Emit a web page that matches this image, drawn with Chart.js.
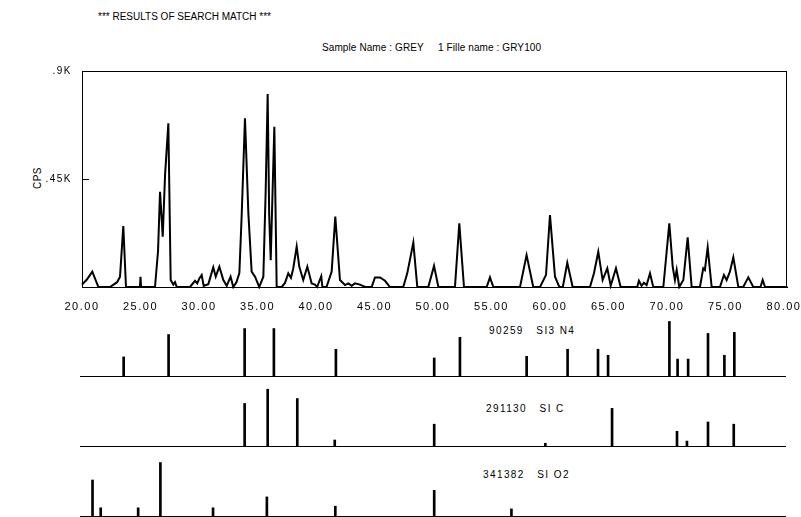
<!DOCTYPE html>
<html lang="en">
<head>
<meta charset="UTF-8">
<title>Search match</title>
<script src="https://cdn.jsdelivr.net/npm/chart.js"></script>
<style>
  body { margin: 0; background: #fff; }
  #page { position: relative; width: 801px; height: 517px; overflow: hidden; font-family: "Liberation Sans", Arial, sans-serif; color: #000; }
  canvas { position: absolute; left: 0; }
  .txt { position: absolute; font-size: 10px; white-space: pre; line-height: 12px; }
</style>
</head>
<body>
<div id="page">
  <div class="txt" style="left:98px;top:11px;letter-spacing:0px">*** RESULTS OF SEARCH MATCH ***</div>
  <div class="txt" style="left:322px;top:42px;letter-spacing:0.1px">Sample Name : GREY     1 Fille name : GRY100</div>
  <div class="txt" style="left:27px;top:172px;transform:rotate(-90deg);transform-origin:center;letter-spacing:0.5px">CPS</div>
  <div class="txt" style="left:489px;top:325px;letter-spacing:1.4px">90259   SI3 N4</div>
  <div class="txt" style="left:486px;top:403px;letter-spacing:1.4px">291130   SI C</div>
  <div class="txt" style="left:483px;top:469px;letter-spacing:1.4px">341382   SI O2</div>
  <canvas id="main" width="801" height="310" style="top:0"></canvas>
  <canvas id="p1" width="801" height="68" style="top:310px"></canvas>
  <canvas id="p2" width="801" height="68" style="top:380px"></canvas>
  <canvas id="p3" width="801" height="68" style="top:450px"></canvas>
</div>

<script>
    // measured pattern (2-theta, counts per second)
    var twoTheta = [20.0, 20.4, 20.88, 21.4, 22.4, 23.0, 23.25, 23.53, 23.76, 24.95, 25.0, 25.05,
        26.24, 26.5, 26.67, 26.9, 27.1, 27.38, 27.58, 27.8, 27.95, 28.1,
        29.23, 29.66, 29.85, 30.03, 30.23, 30.4, 30.8, 31.22, 31.43, 31.74, 32.08, 32.37, 32.7, 32.93,
        33.2, 33.45, 33.65, 33.93, 34.22, 34.5, 34.79, 35.15, 35.5, 35.7, 35.87, 36.0, 36.13, 36.44, 36.64,
        37.07, 37.35, 37.63, 37.86, 38.06, 38.35, 38.57, 38.91, 39.26, 39.63, 39.91, 40.1, 40.45, 40.55,
        40.9, 41.34, 41.65, 42.05, 42.48, 42.77, 43.05, 43.33, 43.76, 44.2, 44.76, 45.04, 45.47, 45.9, 46.32,
        47.46, 47.8, 48.32, 48.66, 49.6, 50.09, 50.46, 51.88, 52.25, 52.65, 54.59, 54.87, 55.16,
        57.44, 58.0, 58.57, 59.15, 59.66, 60.0, 60.43, 60.8, 61.1, 61.48, 61.94,
        63.42, 63.76, 64.13, 64.5, 64.9, 65.19, 65.64, 66.04, 67.46, 67.6, 67.83, 68.03, 68.26, 68.55, 68.83,
        69.69, 70.2, 70.49, 70.68, 70.83, 71.05, 71.4, 71.77, 72.11, 72.82, 73.1, 73.24, 73.48, 73.82,
        74.53, 74.87, 75.1, 75.38, 75.67, 76.1, 76.52, 76.95, 77.38, 77.99, 78.18, 78.38, 80.3];
    var cps = [10, 30, 64, 0, 0, 20, 43, 254, 0, 0, 42, 0,
        0, 150, 397, 210, 467, 682, 29, 10, 20, 0,
        0, 26, 15, 36, 50, 5, 12, 82, 43, 85, 29, 5, 43, 0,
        20, 58, 300, 703, 307, 64, 43, 0, 43, 400, 804, 300, 112, 668, 0,
        0, 17, 57, 38, 78, 168, 85, 29, 85, 15, 10, 0, 45, 0,
        0, 64, 293, 29, 8, 15, 5, 15, 10, 0, 0, 40, 40, 26, 0,
        0, 57, 185, 0, 0, 88, 0, 0, 265, 0, 0, 40, 0,
        0, 133, 0, 0, 50, 300, 43, 0, 0, 101, 0,
        0, 57, 147, 29, 78, 5, 78, 0, 0, 26, 5, 18, 8, 57, 0,
        0, 265, 85, 29, 71, 0, 29, 207, 0, 0, 78, 71, 165, 0,
        0, 50, 29, 64, 124, 0, 0, 40, 0, 0, 29, 0, 0];

    var xTicks = [20, 25, 30, 35, 40, 45, 50, 55, 60, 65, 70, 75, 80];
    var yTicks = [0, 450, 900];

    // reference card lines (2-theta, relative intensity)
    var si3n4Pos = [23.56, 27.4, 33.9, 36.4, 41.7, 50.1, 52.3, 58.0, 61.5, 64.1, 64.96, 70.2, 70.9, 71.8, 73.5, 74.9, 75.75];
    var si3n4Int = [35, 76, 87, 87, 49, 33, 71, 36, 49, 49, 38, 100, 31, 31, 78, 38, 80];
    var sicPos = [33.9, 35.87, 38.4, 41.6, 50.1, 59.6, 65.3, 70.85, 71.7, 73.5, 75.7];
    var sicInt = [78, 104, 87, 11, 40, 5, 69, 27, 9, 44, 40];
    var sio2Pos = [20.9, 21.6, 24.8, 26.7, 31.2, 35.8, 41.65, 50.1, 56.7];
    var sio2Int = [66, 15, 15, 98, 15, 35, 18, 47, 13];

    var fonte = '"Liberation Sans", Arial, sans-serif';

    var frame = {
        id: 'frame',
        beforeDraw: function (chart) {
            chart.ctx.letterSpacing = '1.5px';
        },
        afterDraw: function (chart) {
            var a = chart.chartArea;
            var ctx = chart.ctx;
            var y = chart.scales.y.getPixelForValue(450);
            ctx.save();
            ctx.strokeStyle = '#000';
            ctx.lineWidth = 1;
            ctx.strokeRect(a.left + 0.5, a.top + 0.5, a.right - a.left - 1, a.bottom - a.top);
            ctx.beginPath();
            ctx.moveTo(a.left, Math.round(y) + 0.5);
            ctx.lineTo(a.left + 7, Math.round(y) + 0.5);
            ctx.stroke();
            ctx.restore();
        }
    };

    var pontos = twoTheta.map(function (t, i) { return { x: t, y: cps[i] }; });

    new Chart(document.getElementById('main'), {
        type: 'line',
        data: {
            datasets: [{
                data: pontos,
                borderColor: '#000',
                borderWidth: 2,
                pointRadius: 0,
                tension: 0,
                clip: 2
            }]
        },
        options: {
            responsive: false,
            animation: false,
            layout: { padding: { top: 71, right: 14, left: 0, bottom: 0 } },
            plugins: { legend: { display: false }, tooltip: { enabled: false } },
            scales: {
                x: {
                    type: 'linear',
                    min: 20,
                    max: 80.26,
                    afterBuildTicks: function (s) { s.ticks = xTicks.map(function (v) { return { value: v }; }); },
                    afterFit: function (s) { s.height = 23; s.paddingLeft = 0; s.paddingRight = 0; },
                    grid: { display: false },
                    border: { display: true, color: '#000', width: 1 },
                    ticks: {
                        color: '#000',
                        padding: 5,
                        maxRotation: 0,
                        font: { family: fonte, size: 11 },
                        callback: function (v) { return v.toFixed(2); }
                    }
                },
                y: {
                    min: 0,
                    max: 900,
                    afterBuildTicks: function (s) { s.ticks = yTicks.map(function (v) { return { value: v }; }); },
                    afterFit: function (s) { s.width = 82; s.paddingTop = 0; s.paddingBottom = 0; },
                    grid: { display: false },
                    border: { display: true, color: '#000', width: 1 },
                    ticks: {
                        color: '#000',
                        padding: 2,
                        font: { family: fonte, size: 10 },
                        callback: function (v) {
                            if (v == 900) return '.9K';
                            if (v == 450) return '.45K';
                            return '';
                        }
                    }
                }
            }
        },
        plugins: [frame]
    });

    function painel(id, pos, inten) {
        new Chart(document.getElementById(id), {
            type: 'bar',
            data: {
                datasets: [{
                    data: pos.map(function (p, i) { return { x: p, y: inten[i] }; }),
                    backgroundColor: '#000',
                    barThickness: 2
                }]
            },
            options: {
                responsive: false,
                animation: false,
                layout: { padding: { top: 6, right: 16, left: 80, bottom: 1 } },
                plugins: { legend: { display: false }, tooltip: { enabled: false } },
                scales: {
                    x: {
                        type: 'linear',
                        offset: false,
                        min: 19.83,
                        max: 80.08,
                        afterFit: function (s) { s.height = 1; s.paddingLeft = 0; s.paddingRight = 0; },
                        grid: { display: false },
                        border: { display: true, color: '#000', width: 1 },
                        ticks: { display: false }
                    },
                    y: { display: false, min: 0, max: 110 }
                }
            }
        });
    }

    painel('p1', si3n4Pos, si3n4Int);
    painel('p2', sicPos, sicInt);
    painel('p3', sio2Pos, sio2Int);
</script>
</body>
</html>
